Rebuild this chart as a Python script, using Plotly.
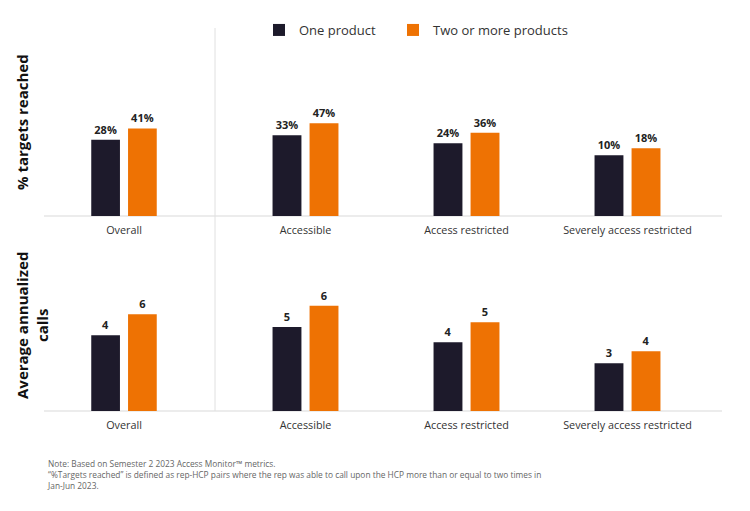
import plotly.graph_objects as go
from plotly.subplots import make_subplots

# data
overall_cat = ["Overall"]
access_cats = ["Accessible", "Access restricted", "Severely access restricted"]
series_names = ["One product", "Two or more products"]

pct_one_overall = [28]
pct_two_overall = [41]
pct_one_access = [33, 24, 10]
pct_two_access = [47, 36, 18]

calls_one_overall = [4.45]
calls_two_overall = [5.69]
calls_one_access = [4.94, 4.04, 2.81]
calls_two_access = [6.19, 5.22, 3.51]

note_lines = [
    "Note: Based on Semester 2 2023 Access Monitor™ metrics.",
    "“%Targets reached” is defined as rep-HCP pairs where the rep was able to call upon the HCP more than or equal to two times in",
    "Jan-Jun 2023.",
]

DARK = "#1d1a2b"
ORANGE = "#ee7203"
W, H = 750, 511
FONT = "Open Sans"


def px_x(p):
    return p / W


def px_y(p):
    return 1 - p / H


fig = make_subplots(rows=2, cols=2)

# the % panel in the original does not start its bars at zero
PCT_BASE = -60

rows = [
    (1, [(overall_cat, pct_one_overall, pct_two_overall), (access_cats, pct_one_access, pct_two_access)]),
    (2, [(overall_cat, calls_one_overall, calls_two_overall), (access_cats, calls_one_access, calls_two_access)]),
]

series = [(series_names[0], DARK, "legend"), (series_names[1], ORANGE, "legend2")]

for row, cols in rows:
    for col, (cats, one, two) in enumerate(cols, start=1):
        for (name, color, leg), vals in zip(series, [one, two]):
            if row == 1:
                ys = [v - PCT_BASE for v in vals]
                labels = [f"{v:.0f}%" for v in vals]
                base = PCT_BASE
            else:
                ys = vals
                labels = [f"{v:.0f}" for v in vals]
                base = None
            fig.add_trace(go.Bar(
                x=cats, y=ys, name=name, base=base,
                marker=dict(color=color, line=dict(width=0)),
                text=labels,
                textposition="outside",
                textfont=dict(family=FONT, size=11, color="#222222", weight="bold"),
                cliponaxis=False,
                legend=leg,
                showlegend=(row == 1 and col == 1),
            ), row=row, col=col)

legend_style = dict(orientation="h", y=px_y(30), xanchor="left", yanchor="middle",
                    font=dict(family=FONT, size=13, color="#333333"), itemwidth=30,
                    bgcolor="rgba(0,0,0,0)")

fig.update_layout(
    width=W, height=H,
    margin=dict(l=0, r=0, t=0, b=0),
    paper_bgcolor="white", plot_bgcolor="white",
    barmode="group", bargap=0.54, bargroupgap=0.22,
    font=dict(family=FONT, size=11, color="#333333"),
    legend=dict(x=px_x(259), **legend_style),
    legend2=dict(x=px_x(393), **legend_style),
)

# domains
x_col1 = [px_x(44), px_x(204)]
x_col2 = [px_x(225), px_x(708)]
y_row1 = [px_y(216), px_y(28)]
y_row2 = [px_y(411), px_y(250)]

axis_common = dict(showgrid=False, zeroline=False, showline=False, ticks="outside",
                   ticklen=4, tickcolor="rgba(0,0,0,0)",
                   tickfont=dict(family=FONT, size=10.8, color="#333333"))
fig.update_xaxes(**axis_common)
fig.update_yaxes(visible=False, showgrid=False, zeroline=False)

fig.update_layout(
    xaxis=dict(domain=x_col1), xaxis2=dict(domain=x_col2),
    xaxis3=dict(domain=x_col1), xaxis4=dict(domain=x_col2),
    yaxis=dict(domain=y_row1, range=[PCT_BASE, PCT_BASE + 188 / 0.867]),
    yaxis2=dict(domain=y_row1, range=[PCT_BASE, PCT_BASE + 188 / 0.867]),
    yaxis3=dict(domain=y_row2, range=[0, 161 / 17]),
    yaxis4=dict(domain=y_row2, range=[0, 161 / 17]),
)

# baselines and separator
for yb in (216, 411):
    fig.add_shape(type="line", xref="paper", yref="paper",
                  x0=px_x(44), x1=px_x(722), y0=px_y(yb), y1=px_y(yb),
                  line=dict(color="#e6e6e6", width=1.5), layer="below")
fig.add_shape(type="line", xref="paper", yref="paper",
              x0=px_x(215), x1=px_x(215), y0=px_y(28), y1=px_y(411),
              line=dict(color="#e0e0e0", width=1), layer="below")

# row titles
fig.add_annotation(text="% targets reached", xref="paper", yref="paper",
                   x=px_x(22), y=px_y(122), xanchor="center", yanchor="middle",
                   textangle=-90, showarrow=False,
                   font=dict(family=FONT, size=15, color="#111111", weight="bold"))
fig.add_annotation(text="Average annualized<br>calls", xref="paper", yref="paper",
                   x=px_x(32), y=px_y(326), xanchor="center", yanchor="middle",
                   textangle=-90, showarrow=False,
                   font=dict(family=FONT, size=15, color="#111111", weight="bold"))

# note
fig.add_annotation(text="<br>".join(note_lines), xref="paper", yref="paper",
                   x=px_x(45), y=px_y(456), xanchor="left", yanchor="top", align="left",
                   showarrow=False,
                   font=dict(family=FONT, size=8.35, color="#666666"))

fig.write_html("out.html", config={"displayModeBar": False},
               post_script="document.body.style.margin='0';")
